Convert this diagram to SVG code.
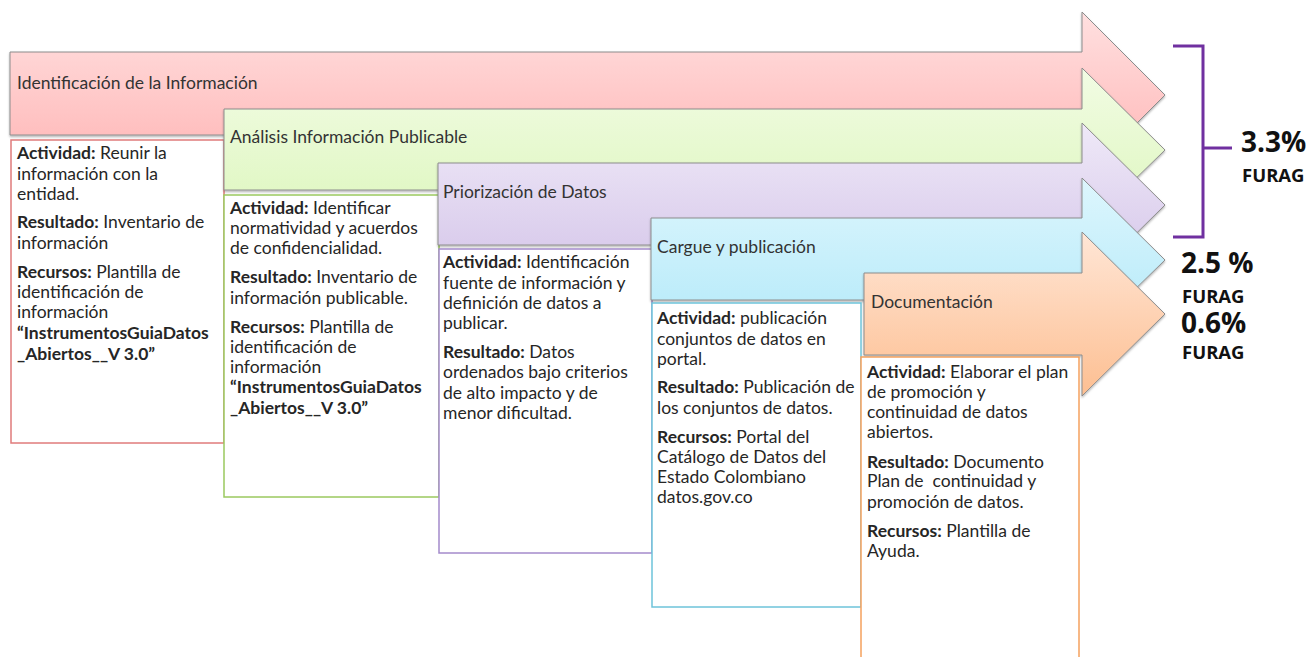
<svg xmlns="http://www.w3.org/2000/svg" width="1312" height="657" viewBox="0 0 1312 657">
<defs>
<linearGradient id="gPink" x1="0" y1="0" x2="0" y2="1"><stop offset="0" stop-color="#FFE0E0"/><stop offset="1" stop-color="#FFB3B3"/></linearGradient>
<linearGradient id="gGreen" x1="0" y1="0" x2="0" y2="1"><stop offset="0" stop-color="#F2FCE4"/><stop offset="1" stop-color="#DCF6BC"/></linearGradient>
<linearGradient id="gPurple" x1="0" y1="0" x2="0" y2="1"><stop offset="0" stop-color="#EFE9F8"/><stop offset="1" stop-color="#D3C3E8"/></linearGradient>
<linearGradient id="gCyan" x1="0" y1="0" x2="0" y2="1"><stop offset="0" stop-color="#DDF6FD"/><stop offset="1" stop-color="#B2E9F9"/></linearGradient>
<linearGradient id="gOrange" x1="0" y1="0" x2="0" y2="1"><stop offset="0" stop-color="#FFE6D6"/><stop offset="1" stop-color="#FDBF92"/></linearGradient>
<filter id="sh" x="-5%" y="-10%" width="110%" height="130%"><feDropShadow dx="0" dy="1.5" stdDeviation="1" flood-color="#000" flood-opacity="0.3"/></filter>
</defs>
<style>
.arrow{stroke:#8C8C8C;stroke-width:1;filter:url(#sh)}
.title{font-family:"Lato","Open Sans",sans-serif;font-size:17.5px;fill:#333}
.box{fill:#fff;stroke-width:1.5}
.t{font-family:"Lato","Open Sans",sans-serif;font-size:17.5px;fill:#262626}
.b{font-weight:bold}
.pct{font-family:"Open Sans","DejaVu Sans",sans-serif;font-weight:bold;fill:#111}
</style>

<g id="step1">
<polygon class="arrow" fill="url(#gPink)" points="10,52 1082,52 1082,12 1165,95 1082,178 1082,135 10,135"/>
<text class="title" x="17" y="89">Identificación de la Información</text>
<rect class="box" x="11" y="140" width="213" height="303" stroke="#E07B7B"/>
<text class="t" x="17">
<tspan x="17" y="159"><tspan class="b">Actividad:</tspan> Reunir la</tspan>
<tspan x="17" y="180">información con la</tspan>
<tspan x="17" y="200">entidad.</tspan>
<tspan x="17" y="228"><tspan class="b">Resultado:</tspan> Inventario de</tspan>
<tspan x="17" y="249">información</tspan>
<tspan x="17" y="278"><tspan class="b">Recursos:</tspan> Plantilla de</tspan>
<tspan x="17" y="298">identificación de</tspan>
<tspan x="17" y="318">información</tspan>
<tspan x="17" y="339" class="b">“InstrumentosGuiaDatos</tspan>
<tspan x="17" y="360" class="b">_Abiertos__V 3.0”</tspan>
</text>
</g>

<g id="step2">
<polygon class="arrow" fill="url(#gGreen)" points="224,109 1082,109 1082,68 1165,150 1082,231 1082,190 224,190"/>
<text class="title" x="230" y="143">Análisis Información Publicable</text>
<rect class="box" x="224" y="195" width="215" height="302" stroke="#9BC95F"/>
<text class="t">
<tspan x="230" y="214"><tspan class="b">Actividad:</tspan> Identificar</tspan>
<tspan x="230" y="234">normatividad y acuerdos</tspan>
<tspan x="230" y="254">de confidencialidad.</tspan>
<tspan x="230" y="283"><tspan class="b">Resultado:</tspan> Inventario de</tspan>
<tspan x="230" y="304">información publicable.</tspan>
<tspan x="230" y="333"><tspan class="b">Recursos:</tspan> Plantilla de</tspan>
<tspan x="230" y="353">identificación de</tspan>
<tspan x="230" y="373">información</tspan>
<tspan x="230" y="393" class="b">“InstrumentosGuiaDatos</tspan>
<tspan x="230" y="414" class="b">_Abiertos__V 3.0”</tspan>
</text>
</g>

<g id="step3">
<polygon class="arrow" fill="url(#gPurple)" points="438,163 1082,163 1082,123 1165,205 1082,287 1082,245 438,245"/>
<text class="title" x="443" y="198">Priorización de Datos</text>
<rect class="box" x="439" y="249" width="213" height="304" stroke="#A48BCB"/>
<text class="t">
<tspan x="443" y="268"><tspan class="b">Actividad:</tspan> Identificación</tspan>
<tspan x="443" y="289">fuente de información y</tspan>
<tspan x="443" y="309">definición de datos a</tspan>
<tspan x="443" y="329">publicar.</tspan>
<tspan x="443" y="358"><tspan class="b">Resultado:</tspan> Datos</tspan>
<tspan x="443" y="378">ordenados bajo criterios</tspan>
<tspan x="443" y="399">de alto impacto y de</tspan>
<tspan x="443" y="419">menor dificultad.</tspan>
</text>
</g>

<g id="step4">
<polygon class="arrow" fill="url(#gCyan)" points="651,218 1082,218 1082,178 1165,260 1082,341 1082,300 651,300"/>
<text class="title" x="657" y="253">Cargue y publicación</text>
<rect class="box" x="652" y="303" width="209" height="304" stroke="#6EC3DA"/>
<text class="t">
<tspan x="657" y="324"><tspan class="b">Actividad:</tspan> publicación</tspan>
<tspan x="657" y="345">conjuntos de datos en</tspan>
<tspan x="657" y="365">portal.</tspan>
<tspan x="657" y="393"><tspan class="b">Resultado:</tspan> Publicación de</tspan>
<tspan x="657" y="414">los conjuntos de datos.</tspan>
<tspan x="657" y="443"><tspan class="b">Recursos:</tspan> Portal del</tspan>
<tspan x="657" y="463">Catálogo de Datos del</tspan>
<tspan x="657" y="483">Estado Colombiano</tspan>
<tspan x="657" y="503">datos.gov.co</tspan>
</text>
</g>

<g id="step5">
<polygon class="arrow" fill="url(#gOrange)" points="864,273 1082,273 1082,232 1165,314 1082,396 1082,355 864,355"/>
<text class="title" x="871" y="308">Documentación</text>
<rect class="box" x="861" y="357" width="218" height="310" stroke="#F5A15E"/>
<text class="t">
<tspan x="867" y="378"><tspan class="b">Actividad:</tspan> Elaborar el plan</tspan>
<tspan x="867" y="398">de promoción y</tspan>
<tspan x="867" y="418">continuidad de datos</tspan>
<tspan x="867" y="438">abiertos.</tspan>
<tspan x="867" y="468"><tspan class="b">Resultado:</tspan> Documento</tspan>
<tspan x="867" y="487" xml:space="preserve">Plan de  continuidad y</tspan>
<tspan x="867" y="508">promoción de datos.</tspan>
<tspan x="867" y="537"><tspan class="b">Recursos:</tspan> Plantilla de</tspan>
<tspan x="867" y="557">Ayuda.</tspan>
</text>
</g>

<g id="bracket" fill="none" stroke="#7030A0" stroke-width="3">
<path d="M1173,46 H1203 V237 H1173"/>
<path d="M1203,148 H1232"/>
</g>

<g id="labels">
<text class="pct" x="1241" y="152" font-size="28">3.3%</text>
<text class="pct" x="1242" y="182" font-size="18.5">FURAG</text>
<text class="pct" x="1181" y="273" font-size="28">2.5 %</text>
<text class="pct" x="1182" y="303" font-size="18.5">FURAG</text>
<text class="pct" x="1181" y="333" font-size="28">0.6%</text>
<text class="pct" x="1182" y="359" font-size="18.5">FURAG</text>
</g>
</svg>
